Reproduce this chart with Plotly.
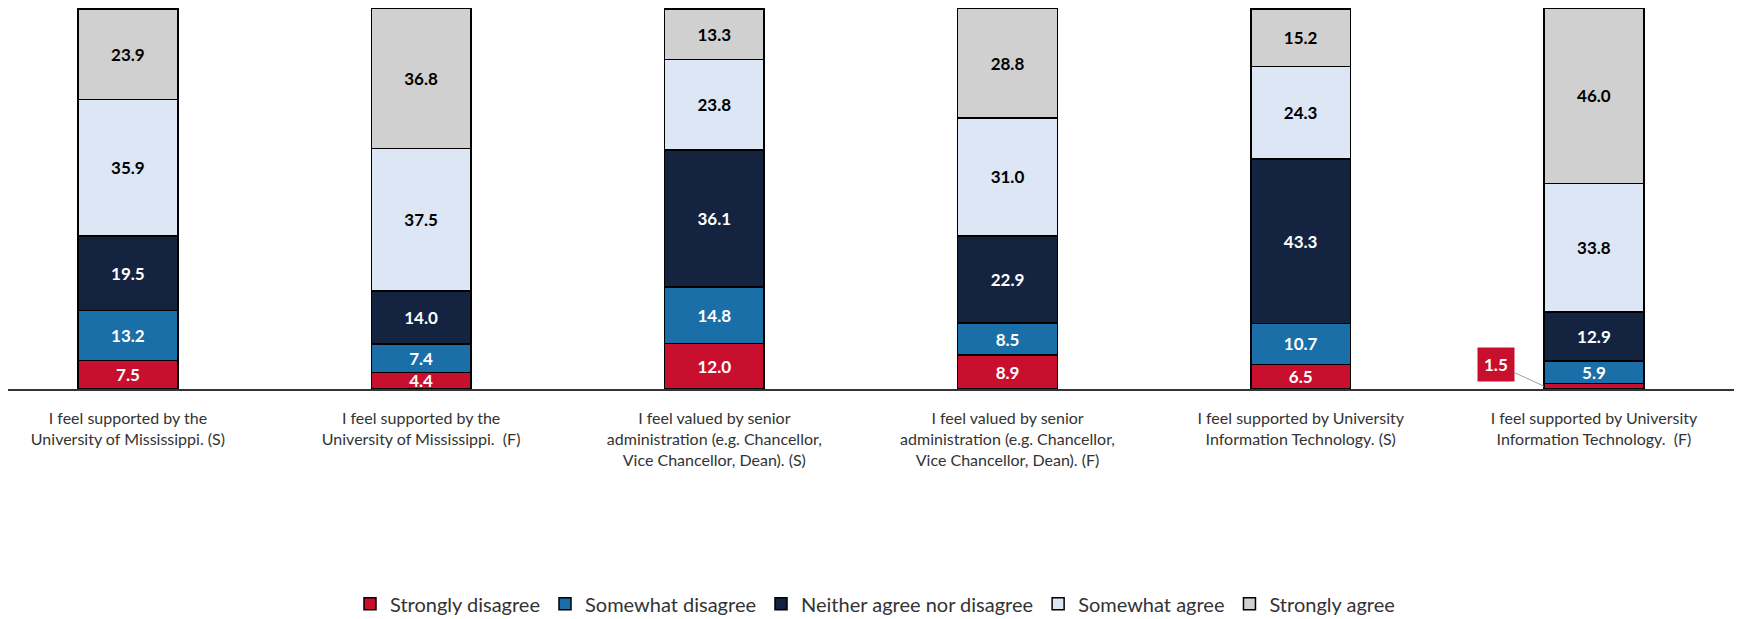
import plotly.graph_objects as go

# survey items (x categories)
categories = [
    "I feel supported by the<br>University of Mississippi. (S)",
    "I feel supported by the<br>University of Mississippi.  (F)",
    "I feel valued by senior<br>administration (e.g. Chancellor,<br>Vice Chancellor, Dean). (S)",
    "I feel valued by senior<br>administration (e.g. Chancellor,<br>Vice Chancellor, Dean). (F)",
    "I feel supported by University<br>Information Technology. (S)",
    "I feel supported by University<br>Information Technology.  (F)",
]

strongly_disagree = [7.5, 4.4, 12.0, 8.9, 6.5, 1.5]
somewhat_disagree = [13.2, 7.4, 14.8, 8.5, 10.7, 5.9]
neither = [19.5, 14.0, 36.1, 22.9, 43.3, 12.9]
somewhat_agree = [35.9, 37.5, 23.8, 31.0, 24.3, 33.8]
strongly_agree = [23.9, 36.8, 13.3, 28.8, 15.2, 46.0]

series = [
    ("Strongly disagree", strongly_disagree, "#C8102E", "white"),
    ("Somewhat disagree", somewhat_disagree, "#1B6FA8", "white"),
    ("Neither agree nor disagree", neither, "#14233F", "white"),
    ("Somewhat agree", somewhat_agree, "#DCE6F4", "black"),
    ("Strongly agree", strongly_agree, "#D0D0D0", "black"),
]

FONT = "Lato, Open Sans, sans-serif"

fig = go.Figure()
for name, vals, color, txtcolor in series:
    labels = [f"{v:.1f}" for v in vals]
    if name == "Strongly disagree":
        # smallest slice gets a callout instead
        labels[5] = ""
    fig.add_trace(go.Bar(
        x=categories,
        y=vals,
        name=name,
        marker=dict(color=color, line=dict(color="black", width=1.5)),
        text=labels,
        textposition="inside",
        insidetextanchor="middle",
        textangle=0,
        constraintext="none",
        textfont=dict(family=FONT, size=17, color=txtcolor, weight="bold"),
        width=0.34,
    ))

# callout for the 1.5 slice
fig.add_annotation(
    x=categories[5], y=strongly_disagree[5] / 2,
    xref="x", yref="y",
    text=f"<b>{strongly_disagree[5]:.1f}</b>",
    font=dict(family=FONT, size=17, color="white"),
    bgcolor="#C8102E",
    borderpad=6,
    showarrow=True, arrowhead=0, arrowcolor="#A0A0A0", arrowwidth=1,
    ax=-48, ay=-22,
    xshift=-50,
)

fig.update_layout(
    barmode="stack",
    width=1734, height=611,
    margin=dict(l=0, r=0, t=0, b=230),
    plot_bgcolor="white",
    paper_bgcolor="white",
    font=dict(family=FONT, size=16, color="#333333"),
    legend=dict(
        orientation="h",
        x=0.5, xanchor="center",
        yref="container", y=0.025, yanchor="middle",
        font=dict(size=20, color="#333333"),
        traceorder="normal",
        itemwidth=30,
    ),
    xaxis=dict(
        range=[-0.409, 5.505],
        showline=True, linecolor="#333333", linewidth=1.5,
        ticks="", ticklabelstandoff=14,
        tickfont=dict(size=16, color="#333333"),
    ),
    yaxis=dict(range=[0, 100.2], visible=False),
)

fig.write_html("out.html")
